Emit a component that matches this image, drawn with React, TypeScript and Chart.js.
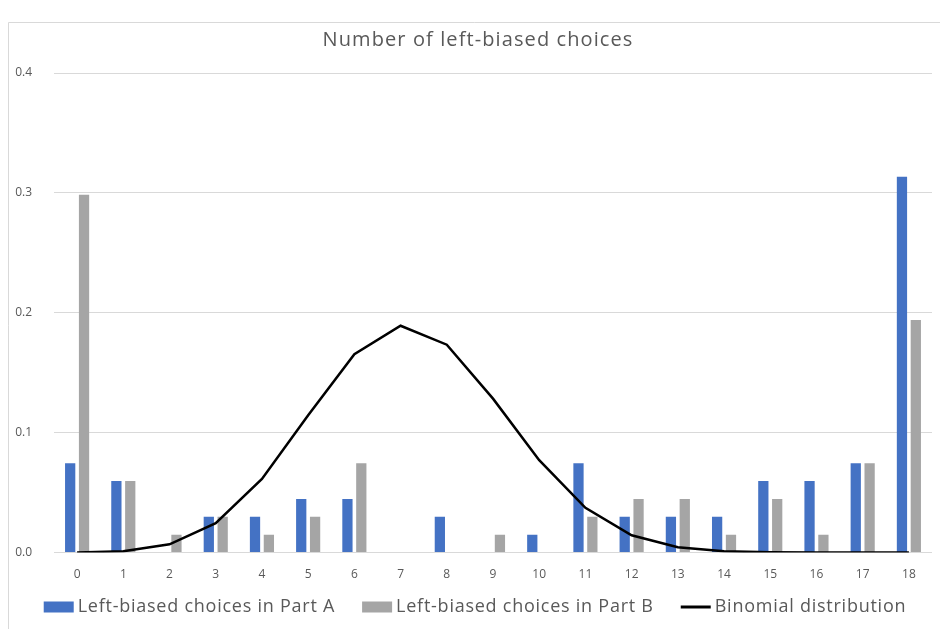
import React, { useEffect, useRef } from "react";
import { Chart, registerables } from "chart.js";

Chart.register(...registerables);

const categories = ["0","1","2","3","4","5","6","7","8","9","10","11","12","13","14","15","16","17","18"];
const partA = [0.0746,0.0597,0,0.0299,0.0299,0.0448,0.0448,0,0.0299,0,0.0149,0.0746,0.0299,0.0299,0.0299,0.0597,0.0597,0.0746,0.3134];
const partB = [0.2985,0.0597,0.0149,0.0299,0.0149,0.0299,0.0746,0,0,0.0149,0,0.0299,0.0448,0.0448,0.0149,0.0448,0.0149,0.0746,0.194];
const binomial = [0.0001,0.0012,0.0069,0.0246,0.0614,0.1146,0.1655,0.1892,0.1734,0.1284,0.0771,0.0374,0.0145,0.0045,0.0011,0.0002,0.0000,0.0000,0.0000];
const yTicks = [0, 0.1, 0.2, 0.3, 0.4];
const titleText = "Number of left-biased choices";
const seriesNames = ["Left-biased choices in Part A", "Left-biased choices in Part B", "Binomial distribution"];
const legendOrder = [1, 2, 0];

const FONT = "'Open Sans', 'Liberation Sans', sans-serif";
const TEXT = "#595959";

const framePlugin = {
  id: "frame",
  beforeDraw(chart: any) {
    const ctx = chart.ctx;
    ctx.save();
    ctx.fillStyle = "#ffffff";
    ctx.fillRect(0, 0, chart.width, chart.height);
    ctx.strokeStyle = "#d9d9d9";
    ctx.lineWidth = 1;
    ctx.beginPath();
    ctx.moveTo(8.5, chart.height);
    ctx.lineTo(8.5, 22.5);
    ctx.lineTo(chart.width, 22.5);
    ctx.stroke();
    ctx.restore();
  },
};

const textPlugin = {
  id: "titleAndLegend",
  afterDraw(chart: any) {
    const ctx = chart.ctx;
    ctx.save();
    // title
    ctx.font = `20px ${FONT}`;
    (ctx as any).letterSpacing = "1.1px";
    ctx.fillStyle = TEXT;
    ctx.textAlign = "center";
    ctx.textBaseline = "middle";
    ctx.fillText(titleText, 478, 40);

    // legend
    const fontSize = 18;
    const boxW = 30;
    const gap = 4;
    const spacing = 27;
    const y = 607;
    ctx.font = `${fontSize}px ${FONT}`;
    (ctx as any).letterSpacing = "0.75px";
    ctx.textAlign = "left";
    const items = legendOrder.map((i) => {
      const ds = chart.data.datasets[i];
      return { ds, w: boxW + gap + ctx.measureText(ds.label).width };
    });
    const total = items.reduce((s, it) => s + it.w, 0) + spacing * (items.length - 1);
    let x = chart.width / 2 + 5 - total / 2;
    for (const it of items) {
      const ds = it.ds;
      if (ds.type === "line") {
        ctx.strokeStyle = ds.borderColor;
        ctx.lineWidth = 3;
        ctx.beginPath();
        ctx.moveTo(x, y);
        ctx.lineTo(x + boxW, y);
        ctx.stroke();
      } else {
        ctx.fillStyle = ds.backgroundColor;
        ctx.fillRect(x, y - 5.5, boxW, 11);
      }
      ctx.fillStyle = TEXT;
      ctx.fillText(ds.label, x + boxW + gap, y);
      x += it.w + spacing;
    }
    ctx.restore();
  },
};

export default function App() {
  const ref = useRef<HTMLCanvasElement | null>(null);
  useEffect(() => {
    if (!ref.current) return;
    const chart = new Chart(ref.current, {
      type: "bar",
      data: {
        labels: categories,
        datasets: [
          {
            type: "line",
            label: seriesNames[2],
            data: binomial,
            borderColor: "#000000",
            backgroundColor: "#000000",
            borderWidth: 2.5,
            pointRadius: 0,
            tension: 0,
            order: 0,
          } as any,
          {
            label: seriesNames[0],
            data: partA,
            backgroundColor: "#4472C4",
            borderWidth: 0,
            categoryPercentage: 0.6,
            barPercentage: 0.74,
            order: 1,
          },
          {
            label: seriesNames[1],
            data: partB,
            backgroundColor: "#A5A5A5",
            borderWidth: 0,
            categoryPercentage: 0.6,
            barPercentage: 0.74,
            order: 2,
          },
        ],
      },
      options: {
        responsive: false,
        animation: false,
        layout: { padding: { left: 14, right: 8, top: 73, bottom: 32 } },
        scales: {
          x: {
            grid: { display: false, drawTicks: false },
            border: { display: false },
            ticks: { color: TEXT, font: { family: FONT, size: 12 }, padding: 15 },
          },
          y: {
            min: 0,
            max: 0.4,
            afterFit: (s: any) => { s.width = 40; },
            afterBuildTicks: (s: any) => { s.ticks = yTicks.map((v) => ({ value: v })); },
            grid: { color: "#d9d9d9", drawTicks: false, lineWidth: 1 },
            border: { display: false },
            ticks: {
              color: TEXT,
              font: { family: FONT, size: 12 },
              padding: 22,
              callback: (v: any) => Number(v).toFixed(1),
            },
          },
        },
        plugins: {
          title: { display: false },
          legend: { display: false },
          tooltip: { enabled: false },
        },
      },
      plugins: [framePlugin, textPlugin],
    });
    return () => chart.destroy();
  }, []);
  return (
    <div style={{ position: "absolute", left: 0, top: 0, width: 940, height: 629 }}>
      <canvas ref={ref} width={940} height={629} style={{ display: "block" }} />
    </div>
  );
}
